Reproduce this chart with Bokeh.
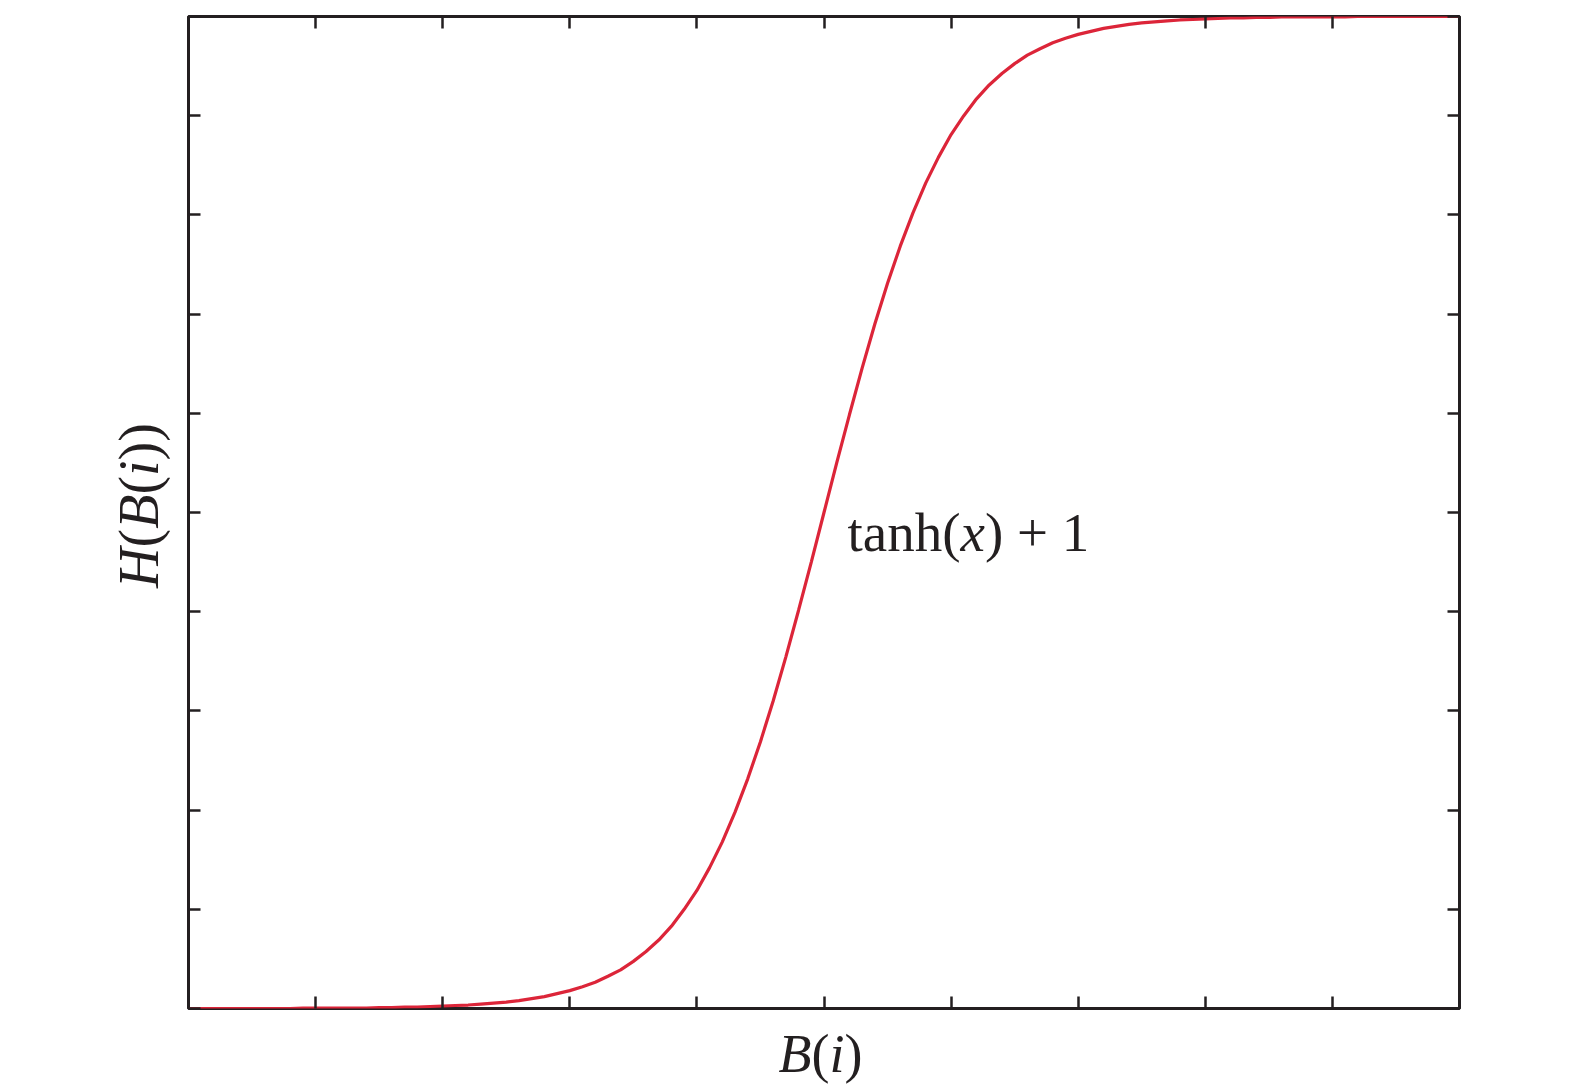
import math
from bokeh.plotting import figure
from bokeh.models import Label, LinearAxis, FixedTicker, Range1d
from bokeh.embed import file_html
from bokeh.resources import INLINE

# ---- data ----
x_vals = [-5.0, -4.9, -4.8, -4.7, -4.6, -4.5, -4.4, -4.3, -4.2, -4.1,
          -4.0, -3.9, -3.8, -3.7, -3.6, -3.5, -3.4, -3.3, -3.2, -3.1,
          -3.0, -2.9, -2.8, -2.7, -2.6, -2.5, -2.4, -2.3, -2.2, -2.1,
          -2.0, -1.9, -1.8, -1.7, -1.6, -1.5, -1.4, -1.3, -1.2, -1.1,
          -1.0, -0.9, -0.8, -0.7, -0.6, -0.5, -0.4, -0.3, -0.2, -0.1,
          0.0,
          0.1, 0.2, 0.3, 0.4, 0.5, 0.6, 0.7, 0.8, 0.9, 1.0,
          1.1, 1.2, 1.3, 1.4, 1.5, 1.6, 1.7, 1.8, 1.9, 2.0,
          2.1, 2.2, 2.3, 2.4, 2.5, 2.6, 2.7, 2.8, 2.9, 3.0,
          3.1, 3.2, 3.3, 3.4, 3.5, 3.6, 3.7, 3.8, 3.9, 4.0,
          4.1, 4.2, 4.3, 4.4, 4.5, 4.6, 4.7, 4.8, 4.9, 5.0]
h_vals = [0.000, 0.000, 0.000, 0.000, 0.000, 0.000, 0.000, 0.000, 0.000, 0.001,
          0.001, 0.001, 0.001, 0.001, 0.001, 0.002, 0.002, 0.003, 0.003, 0.004,
          0.005, 0.006, 0.007, 0.009, 0.011, 0.013, 0.016, 0.020, 0.024, 0.030,
          0.036, 0.044, 0.053, 0.065, 0.078, 0.095, 0.115, 0.138, 0.166, 0.200,
          0.238, 0.284, 0.336, 0.396, 0.463, 0.538, 0.620, 0.709, 0.803, 0.900,
          1.000,
          1.100, 1.197, 1.291, 1.380, 1.462, 1.537, 1.604, 1.664, 1.716, 1.762,
          1.800, 1.834, 1.862, 1.885, 1.905, 1.922, 1.935, 1.947, 1.956, 1.964,
          1.970, 1.976, 1.980, 1.984, 1.987, 1.989, 1.991, 1.993, 1.994, 1.995,
          1.996, 1.997, 1.997, 1.998, 1.998, 1.999, 1.999, 1.999, 1.999, 1.999,
          1.999, 2.000, 2.000, 2.000, 2.000, 2.000, 2.000, 2.000, 2.000, 2.000]
x_ticks = [-5, -4, -3, -2, -1, 0, 1, 2, 3, 4, 5]
y_ticks = [0.0, 0.2, 0.4, 0.6, 0.8, 1.0, 1.2, 1.4, 1.6, 1.8, 2.0]
curve_label = [("tanh(", "normal"), ("x", "italic"), (") + 1", "normal")]
x_label = [("B", "italic"), ("(", "normal"), ("i", "italic"), (")", "normal")]
y_label = [("H", "italic"), ("(", "normal"), ("B", "italic"), ("(", "normal"),
           ("i", "italic"), (")", "normal"), (")", "normal")]

INK = "#231f20"
RED = "#dc2539"
FONT = "Liberation Serif"

FW, FH = 1271, 992
BL, BT, BR, BB = 188, 16, 90, 72
X0, X1, Y0, Y1 = -5, 5, 0, 2
PX_X = FW / (X1 - X0)
PX_Y = FH / (Y1 - Y0)

p = figure(frame_width=FW, frame_height=FH,
           x_range=Range1d(X0, X1), y_range=Range1d(Y0, Y1),
           x_axis_type=None, y_axis_type=None,
           output_backend="svg", toolbar_location=None,
           min_border_left=BL, min_border_top=BT,
           min_border_right=BR, min_border_bottom=BB,
           background_fill_color="white", border_fill_color="white")
p.outline_line_color = INK
p.outline_line_width = 3
p.outline_line_alpha = 1.0

def make_axis(ticks):
    return LinearAxis(ticker=FixedTicker(ticks=ticks),
                      axis_line_color=None,
                      major_tick_in=12, major_tick_out=0,
                      major_tick_line_width=2.5, major_tick_line_color=INK,
                      minor_tick_line_color=None,
                      major_label_text_font_size="0px",
                      major_label_text_color=None,
                      major_label_standoff=0)

p.add_layout(make_axis(x_ticks), "below")
p.add_layout(make_axis(x_ticks), "above")
p.add_layout(make_axis(y_ticks), "left")
p.add_layout(make_axis(y_ticks), "right")

p.line(x_vals, h_vals, line_color=RED, line_width=3.2)

# Times/Liberation Serif advance widths (per 1000 em)
ADV = {("t", "normal"): 278, ("a", "normal"): 444, ("n", "normal"): 500,
       ("h", "normal"): 500, ("(", "normal"): 333, (")", "normal"): 333,
       (" ", "normal"): 250, ("+", "normal"): 564, ("1", "normal"): 500,
       ("x", "italic"): 444, ("B", "italic"): 611, ("i", "italic"): 278,
       ("H", "italic"): 722}

def width(text, style, size):
    return sum(ADV[(c, style)] for c in text) * size / 1000.0

def place(pieces, x, y, size, vertical=False, units="data", side="center"):
    off = 0.0
    for txt, style in pieces:
        if units == "data":
            sx, sy = 1.0 / PX_X, 1.0 / PX_Y
        else:
            sx, sy = 1.0, -1.0   # canvas units: y grows downward
        if vertical:
            lx, ly, ang = x, y + off * sy, math.pi / 2
        else:
            lx, ly, ang = x + off * sx, y, 0
        lab = Label(x=lx, y=ly, text=txt, angle=ang,
                    x_units=units, y_units=units,
                    text_font=FONT, text_font_style=style,
                    text_font_size=f"{size}px", text_color=INK,
                    text_align="left", text_baseline="alphabetic")
        p.add_layout(lab, side)
        off += width(txt, style, size)

# curve annotation (inside the frame)
place(curve_label, 0.185, 0.959, 55)

# x axis label, centred under the frame (canvas pixels from top-left)
xs = 54
xw = sum(width(t, s, xs) for t, s in x_label)
place(x_label, 820 - xw / 2, 1053, xs, units="canvas", side="below")

# y axis label, rotated (canvas pixels from top-left)
ys = 56
yw = sum(width(t, s, ys) for t, s in y_label)
place(y_label, 138, 505 + yw / 2, ys, vertical=True, units="canvas", side="below")

open("out.html", "w").write(file_html(p, INLINE))
